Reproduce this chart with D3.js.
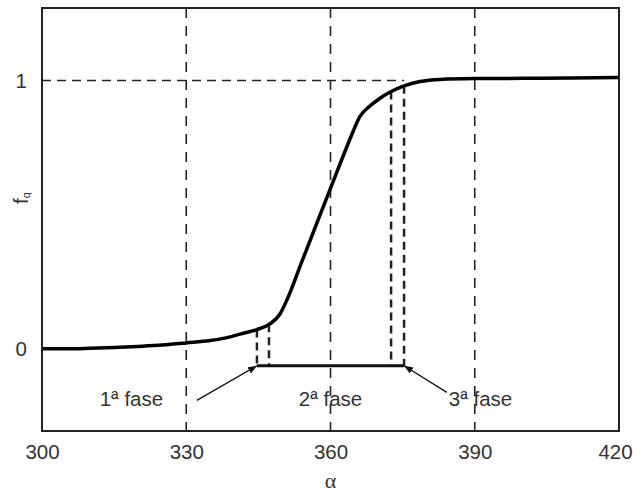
<!DOCTYPE html>
<html>
<head>
<meta charset="utf-8">
<script src="https://cdn.jsdelivr.net/npm/d3@7"></script>
<style>
  body { margin: 0; background: #fff; }
  text { font-family: "Liberation Sans", Arial, sans-serif; fill: #333; }
</style>
</head>
<body>
<div id="root"></div>
<script>
"use strict";

// curve points
const alpha = [300, 305, 310, 315, 320, 325, 330, 335, 338, 341.2, 344.7, 347.4, 349.5, 350.9, 354, 357, 360, 363.4, 364.7, 366.1, 368.2, 370, 372.4, 375.3, 378.6, 382.8, 390, 400, 410, 420];
const fq = [0, 0, 0.002, 0.005, 0.009, 0.014, 0.022, 0.031, 0.04, 0.055, 0.072, 0.093, 0.13, 0.181, 0.323, 0.461, 0.598, 0.753, 0.81, 0.865, 0.905, 0.93, 0.957, 0.98, 0.996, 1.004, 1.007, 1.008, 1.009, 1.011];

const xTicks = [300, 330, 360, 390, 420];
const yTicks = [0, 1];
const gridX = [330, 360, 390];
// phase boundaries on the alpha axis
const phaseX = [344.7, 347.2, 372.6, 375.3];
const barLevel = -0.063;
const phaseLabels = [
  { text: "1", x: 318.6, from: [332.2, -0.192], to: [344.7, barLevel] },
  { text: "2", x: 360, from: null, to: null },
  { text: "3", x: 391.2, from: [384.2, -0.162], to: [375.3, barLevel] },
];

const width = 633;
const height = 493;
const margin = { top: 8, right: 14, bottom: 62, left: 42 };
const fontSize = "20.5px";

const x = d3.scaleLinear().domain([300, 420]).range([margin.left, width - margin.right]);
const y = d3.scaleLinear().domain([-0.306, 1.27]).range([height - margin.bottom, margin.top]);

const svg = d3.select("#root").append("svg")
  .attr("width", width)
  .attr("height", height);

svg.append("defs").append("marker")
  .attr("id", "arrow")
  .attr("viewBox", "0 0 10 10")
  .attr("refX", 10).attr("refY", 5)
  .attr("markerWidth", 9).attr("markerHeight", 9)
  .attr("markerUnits", "userSpaceOnUse")
  .attr("orient", "auto")
  .append("path")
  .attr("d", "M0,1 L10,5 L0,9 Z")
  .attr("fill", "#111");

// vertical dashed grid lines
svg.selectAll(".gridx")
  .data(gridX)
  .enter().append("line")
  .attr("x1", (d) => x(d)).attr("x2", (d) => x(d))
  .attr("y1", y.range()[1]).attr("y2", y.range()[0])
  .attr("stroke", "#222")
  .attr("stroke-width", 1.6)
  .attr("stroke-dasharray", "10,8");

// horizontal dashed line at fq = 1
svg.append("line")
  .attr("x1", x(300)).attr("x2", x(375.3))
  .attr("y1", y(1)).attr("y2", y(1))
  .attr("stroke", "#222")
  .attr("stroke-width", 1.6)
  .attr("stroke-dasharray", "9,6");

const fAt = (a) => {
  const i = d3.bisectLeft(alpha, a);
  if (alpha[i] === a) return fq[i];
  const t = (a - alpha[i - 1]) / (alpha[i] - alpha[i - 1]);
  return fq[i - 1] + t * (fq[i] - fq[i - 1]);
};

// phase dashed lines from the curve down to the bar
svg.selectAll(".phase")
  .data(phaseX)
  .enter().append("line")
  .attr("x1", (d) => x(d)).attr("x2", (d) => x(d))
  .attr("y1", (d) => y(fAt(d)))
  .attr("y2", y(barLevel))
  .attr("stroke", "#222")
  .attr("stroke-width", 2.5)
  .attr("stroke-dasharray", "8,5");

// phase bar
svg.append("line")
  .attr("x1", x(phaseX[0])).attr("x2", x(phaseX[3]))
  .attr("y1", y(barLevel)).attr("y2", y(barLevel))
  .attr("stroke", "#111")
  .attr("stroke-width", 3);

// curve
const line = d3.line()
  .x((d, i) => x(alpha[i]))
  .y((d) => y(d))
  .curve(d3.curveMonotoneX);

svg.append("path")
  .datum(fq)
  .attr("d", line)
  .attr("fill", "none")
  .attr("stroke", "#000")
  .attr("stroke-width", 3.5);

// arrows
svg.selectAll(".arrow")
  .data(phaseLabels.filter((d) => d.from))
  .enter().append("line")
  .attr("x1", (d) => x(d.from[0])).attr("y1", (d) => y(d.from[1]))
  .attr("x2", (d) => x(d.to[0])).attr("y2", (d) => y(d.to[1]))
  .attr("stroke", "#111")
  .attr("stroke-width", 1.3)
  .attr("marker-end", "url(#arrow)");

// phase labels
const labels = svg.selectAll(".plabel")
  .data(phaseLabels)
  .enter().append("text")
  .attr("x", (d) => x(d.x))
  .attr("y", y(-0.213))
  .attr("text-anchor", "middle")
  .style("font-size", fontSize);
labels.append("tspan").text((d) => d.text);
labels.append("tspan").text("ª");
labels.append("tspan").text(" fase");

// frame
svg.append("rect")
  .attr("x", margin.left).attr("y", margin.top)
  .attr("width", width - margin.left - margin.right)
  .attr("height", height - margin.top - margin.bottom)
  .attr("fill", "none")
  .attr("stroke", "#222")
  .attr("stroke-width", 2);

// axes
const xAxis = svg.append("g")
  .attr("transform", `translate(0, ${height - margin.bottom})`)
  .call(d3.axisBottom(x).tickValues(xTicks).tickSize(0).tickPadding(13));
xAxis.select(".domain").remove();
xAxis.selectAll("text")
  .style("font-size", fontSize)
  .style("font-family", "Liberation Sans, Arial, sans-serif")
  .attr("fill", "#333")
  .attr("dx", (d) => (d === 420 ? -4 : 0));

const yAxis = svg.append("g")
  .attr("transform", `translate(${margin.left}, 0)`)
  .call(d3.axisLeft(y).tickValues(yTicks).tickSize(0).tickPadding(15).tickFormat(d3.format("d")));
yAxis.select(".domain").remove();
yAxis.selectAll("text")
  .style("font-size", fontSize)
  .style("font-family", "Liberation Sans, Arial, sans-serif")
  .attr("fill", "#333");

// axis titles
svg.append("text")
  .attr("x", x(360))
  .attr("y", 488)
  .attr("text-anchor", "middle")
  .style("font-family", "Liberation Serif, serif")
  .style("font-size", "22px")
  .text("α");

const yTitle = svg.append("text")
  .attr("transform", "translate(28, 204) rotate(-90)")
  .style("font-size", fontSize);
yTitle.append("tspan").text("f");
yTitle.append("tspan").attr("dy", 2).style("font-size", "11px").text("q");
</script>
</body>
</html>
